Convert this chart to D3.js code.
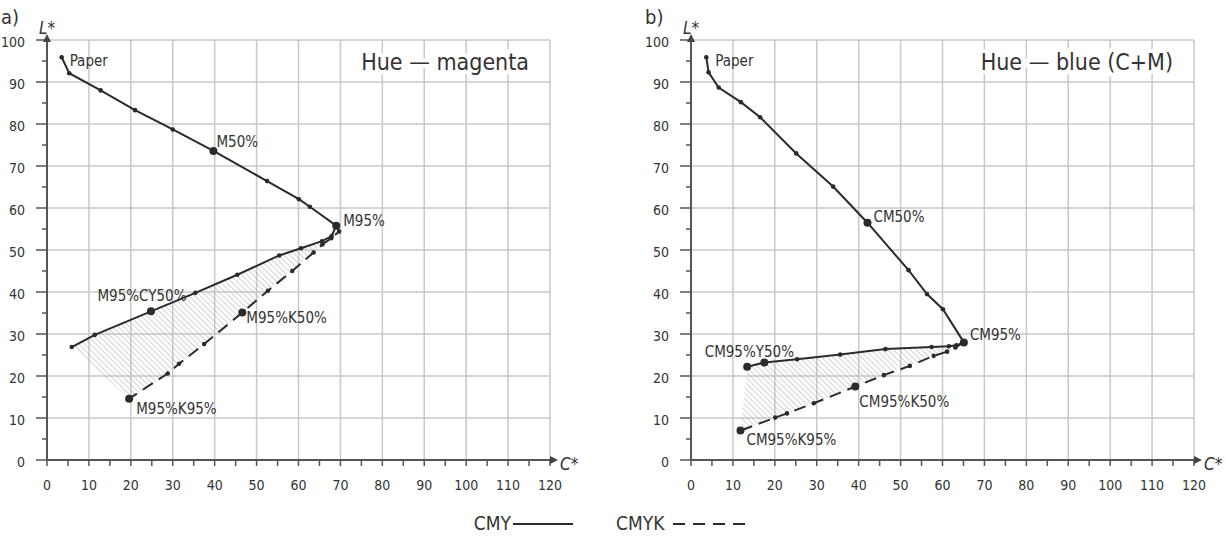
<!DOCTYPE html>
<html>
<head>
<meta charset="utf-8">
<script src="https://cdn.jsdelivr.net/npm/d3@7"></script>
<style>
  body { margin: 0; background: #fff; }
  svg text { font-family: "Liberation Sans Narrow", "DejaVu Sans Condensed", "Roboto", sans-serif; fill: #333; }
</style>
</head>
<body>
<div id="container"></div>
<script>
/* DATA (C*, L*) */
const cTicks = d3.range(0, 121, 10);
const lTicks = d3.range(0, 101, 10);

// panel a) hue magenta
const magentaCMY = [[3.5, 95.9], [5.3, 92.1], [12.8, 88.0], [21.0, 83.3], [30.0, 78.7], [39.7, 73.6], [52.5, 66.4], [60.1, 62.1], [62.7, 60.3], [69.0, 55.8]];
const magentaCY = [[69.0, 55.8], [67.9, 53.3], [65.6, 52.1], [60.6, 50.4], [55.4, 48.7], [45.4, 44.1], [35.4, 39.8], [24.8, 35.4], [11.4, 29.8], [5.9, 26.9]];
const magentaK = [[69.0, 55.8], [69.7, 54.4], [67.8, 52.8], [65.7, 51.3], [63.6, 49.4], [58.5, 45.0], [52.7, 40.3], [46.6, 35.1], [37.5, 27.6], [31.5, 22.9], [28.8, 20.6], [19.6, 14.6]];

// panel b) hue blue (C+M)
const blueCMY = [[3.65, 95.9], [4.2, 92.3], [6.6, 88.7], [11.9, 85.2], [16.5, 81.6], [25.1, 73.0], [33.9, 65.1], [42.1, 56.5], [51.9, 45.2], [56.3, 39.5], [60.1, 35.9], [65.1, 28.0]];
const blueY = [[65.1, 28.0], [63.3, 27.3], [61.5, 27.1], [57.4, 26.9], [46.4, 26.4], [35.6, 25.1], [25.3, 24.0], [17.5, 23.2], [13.4, 22.2]];
const blueK = [[65.1, 28.0], [63.1, 26.8], [61.1, 25.8], [57.9, 24.8], [52.2, 22.4], [46.0, 20.2], [39.2, 17.5], [29.3, 13.5], [22.9, 11.1], [20.1, 10.1], [11.8, 7.0]];

// named points: [series, index, label]
const magentaLabels = [["cmy", 0, "Paper"], ["cmy", 5, "M50%"], ["cmy", 9, "M95%"], ["tail", 7, "M95%CY50%"], ["k", 7, "M95%K50%"], ["k", 11, "M95%K95%"]];
const blueLabels = [["cmy", 0, "Paper"], ["cmy", 7, "CM50%"], ["cmy", 11, "CM95%"], ["tail", 7, "CM95%Y50%"], ["k", 6, "CM95%K50%"], ["k", 10, "CM95%K95%"]];
// extra big dots without a label
const magentaExtra = [];
const blueExtra = [["tail", 8]];

/* LAYOUT */
const width = 1226, height = 536;
const svg = d3.select("#container").append("svg")
  .attr("width", width).attr("height", height);

// label placement (pixels relative to the point)
const magentaPlace = [
  { dx: 8, dy: 9, anchor: "start", big: false },
  { dx: 3, dy: -4, anchor: "start", big: true },
  { dx: 7, dy: 0, anchor: "start", big: true },
  { dx: -9, dy: -10, anchor: "middle", big: true },
  { dx: 4, dy: 10, anchor: "start", big: true },
  { dx: 7, dy: 15, anchor: "start", big: true }
];
const bluePlace = [
  { dx: 9, dy: 9, anchor: "start", big: false },
  { dx: 6, dy: -1, anchor: "start", big: true },
  { dx: 6, dy: -2, anchor: "start", big: true },
  { dx: -15, dy: -6, anchor: "middle", big: true },
  { dx: 4, dy: 20, anchor: "start", big: true },
  { dx: 6, dy: 14, anchor: "start", big: true }
];

// hatch pattern
const defs = svg.append("defs");
defs.append("pattern")
  .attr("id", "hatch")
  .attr("patternUnits", "userSpaceOnUse")
  .attr("width", 4).attr("height", 4)
  .attr("patternTransform", "rotate(-45)")
  .append("line")
  .attr("x1", 0).attr("y1", 0).attr("x2", 0).attr("y2", 4)
  .attr("stroke", "#a8a8a8").attr("stroke-width", 1);

function drawPanel(left, tag, title, cmy, tail, k, labels, place, extra) {
  const x = d3.scaleLinear().domain([0, 120]).range([left, left + 503]);
  const y = d3.scaleLinear().domain([0, 100]).range([460, 40]);
  const g = svg.append("g");

  // grid
  g.selectAll("line.vgrid").data(cTicks.slice(1)).join("line")
    .attr("class", "vgrid")
    .attr("x1", d => x(d)).attr("x2", d => x(d))
    .attr("y1", y(0)).attr("y2", y(100))
    .attr("stroke", "#c8c8c8").attr("stroke-width", 1.5);
  g.selectAll("line.hgrid").data(lTicks.slice(1)).join("line")
    .attr("class", "hgrid")
    .attr("x1", x(0)).attr("x2", x(120))
    .attr("y1", d => y(d)).attr("y2", d => y(d))
    .attr("stroke", "#c8c8c8").attr("stroke-width", 1.5);

  // ticks (every 5)
  g.selectAll("line.xtick").data(d3.range(0, 121, 5)).join("line")
    .attr("class", "xtick")
    .attr("x1", d => x(d)).attr("x2", d => x(d))
    .attr("y1", y(0)).attr("y2", y(0) + 6)
    .attr("stroke", "#555").attr("stroke-width", 1.5);
  g.selectAll("line.ytick").data(d3.range(0, 101, 5)).join("line")
    .attr("class", "ytick")
    .attr("x1", d => x(0) - (d % 10 === 0 ? 11 : 5)).attr("x2", x(0))
    .attr("y1", d => y(d)).attr("y2", d => y(d))
    .attr("stroke", "#555").attr("stroke-width", 1.5);

  // axes with arrows
  g.append("line")
    .attr("x1", x(0)).attr("x2", x(120) + 2)
    .attr("y1", y(0)).attr("y2", y(0))
    .attr("stroke", "#555").attr("stroke-width", 2);
  g.append("line")
    .attr("x1", x(0)).attr("x2", x(0))
    .attr("y1", y(0)).attr("y2", y(100) - 2)
    .attr("stroke", "#555").attr("stroke-width", 2);
  g.append("path")
    .attr("d", `M${x(120) + 8},${y(0)} L${x(120)},${y(0) - 4} L${x(120)},${y(0) + 4}Z`)
    .attr("fill", "#444");
  g.append("path")
    .attr("d", `M${x(0)},${y(100) - 6} L${x(0) - 4},${y(100) + 2} L${x(0) + 4},${y(100) + 2}Z`)
    .attr("fill", "#444");

  // tick labels
  g.selectAll("text.xlab").data(cTicks).join("text")
    .attr("class", "xlab")
    .attr("x", d => x(d)).attr("y", 490)
    .attr("text-anchor", "middle")
    .style("font-size", "14px")
    .text(d => d);
  g.selectAll("text.ylab").data(lTicks).join("text")
    .attr("class", "ylab")
    .attr("x", x(0) - 22).attr("y", d => y(d) + 7)
    .attr("text-anchor", "end")
    .style("font-size", "14px")
    .text(d => d);

  // axis names
  g.append("text").attr("x", x(0) - 8).attr("y", 34)
    .style("font-size", "17px").style("font-style", "italic").text("L*");
  g.append("text").attr("x", x(120) + 10).attr("y", 470)
    .style("font-size", "17px").style("font-style", "italic").text("C*");
  g.append("text").attr("x", left - 46).attr("y", 24)
    .style("font-size", "20px").text(tag);

  // title
  g.append("text")
    .attr("x", x(115)).attr("y", 70)
    .attr("text-anchor", "end")
    .style("font-size", "23px")
    .style("stroke", "#fff").style("stroke-width", 8)
    .style("paint-order", "stroke")
    .text(title);

  // hatched area between the CMY tail and the CMYK branch
  const line = d3.line().x(d => x(d[0])).y(d => y(d[1]));
  const area = tail.concat(k.slice().reverse());
  g.append("path")
    .attr("d", line(area) + "Z")
    .attr("fill", "url(#hatch)")
    .attr("stroke", "none");

  g.append("path").attr("d", line(cmy))
    .attr("fill", "none").attr("stroke", "#2b2b2b").attr("stroke-width", 2);
  g.append("path").attr("d", line(tail))
    .attr("fill", "none").attr("stroke", "#2b2b2b").attr("stroke-width", 2);
  g.append("path").attr("d", line(k))
    .attr("fill", "none").attr("stroke", "#2b2b2b").attr("stroke-width", 2)
    .attr("stroke-dasharray", "12,7");

  // small dots
  const allPts = cmy.concat(tail, k);
  g.selectAll("circle.pt").data(allPts).join("circle")
    .attr("class", "pt")
    .attr("cx", d => x(d[0])).attr("cy", d => y(d[1]))
    .attr("r", 2.3).attr("fill", "#2b2b2b");

  // named points
  const series = { cmy, tail, k };
  extra.forEach(([s, i]) => {
    const p = series[s][i];
    g.append("circle")
      .attr("cx", x(p[0])).attr("cy", y(p[1]))
      .attr("r", 4).attr("fill", "#2b2b2b");
  });
  labels.forEach(([s, i, name], j) => {
    const p = series[s][i];
    const pl = place[j];
    if (pl.big) {
      g.append("circle")
        .attr("cx", x(p[0])).attr("cy", y(p[1]))
        .attr("r", 4).attr("fill", "#2b2b2b");
    }
    g.append("text")
      .attr("x", x(p[0]) + pl.dx).attr("y", y(p[1]) + pl.dy)
      .attr("text-anchor", pl.anchor)
      .style("font-size", "15px")
      .text(name);
  });
}

drawPanel(47, "a)", "Hue \u2014 magenta", magentaCMY, magentaCY, magentaK, magentaLabels, magentaPlace, magentaExtra);
drawPanel(691, "b)", "Hue \u2014 blue (C+M)", blueCMY, blueY, blueK, blueLabels, bluePlace, blueExtra);

// legend
const legend = svg.append("g");
legend.append("text").attr("x", 511).attr("y", 530)
  .attr("text-anchor", "end").style("font-size", "19px").text("CMY");
legend.append("line").attr("x1", 513).attr("x2", 573).attr("y1", 524).attr("y2", 524)
  .attr("stroke", "#2b2b2b").attr("stroke-width", 2);
legend.append("text").attr("x", 616).attr("y", 530)
  .style("font-size", "19px").text("CMYK");
legend.append("line").attr("x1", 673).attr("x2", 745).attr("y1", 524).attr("y2", 524)
  .attr("stroke", "#2b2b2b").attr("stroke-width", 2)
  .attr("stroke-dasharray", "12,8");
</script>
</body>
</html>
